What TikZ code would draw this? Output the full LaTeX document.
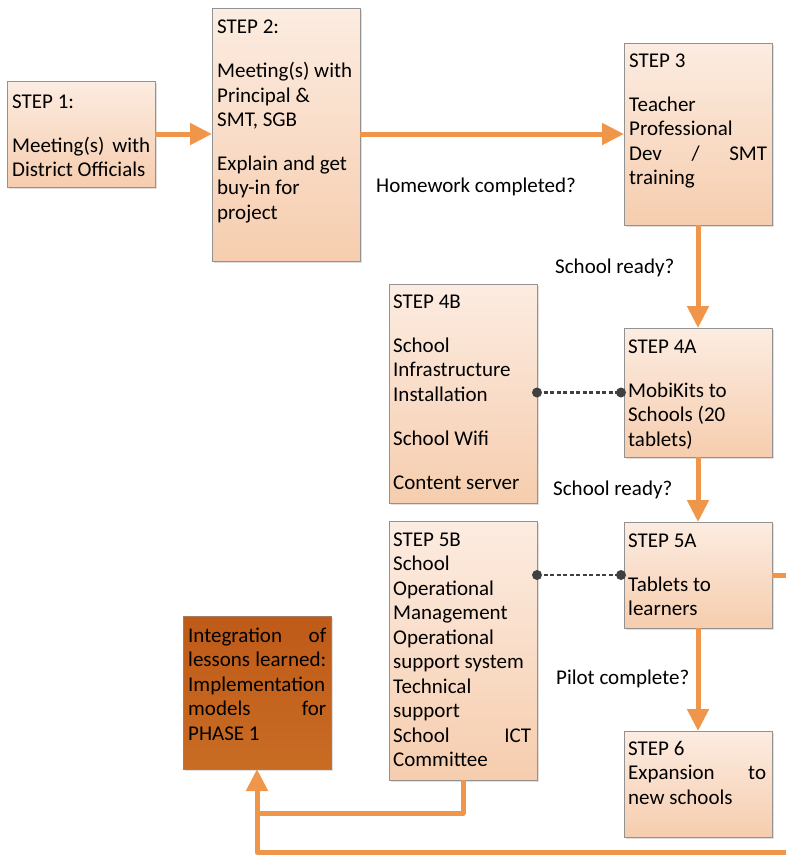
\documentclass[tikz,border=0pt]{standalone}
\usepackage{fontspec}
\setmainfont{Carlito}
\usetikzlibrary{arrows.meta,shadows}
\definecolor{peachTop}{HTML}{FCECE1}
\definecolor{peachBot}{HTML}{F6CDAE}
\definecolor{intTop}{HTML}{BF5A18}
\definecolor{intBot}{HTML}{C86C24}
\definecolor{arrowOr}{HTML}{F0964A}
\definecolor{boxLine}{HTML}{929292}
\definecolor{dotLine}{HTML}{404040}
\tikzset{
  stepbox/.style={draw=boxLine, line width=0.8pt, top color=peachTop, bottom color=peachBot,
    minimum width=148pt, anchor=north west, inner sep=0pt, outer sep=0pt,
    drop shadow={shadow xshift=2pt, shadow yshift=-2pt, opacity=0.25}},
  intbox/.style={stepbox, draw=boxLine!60!intTop, top color=intTop, bottom color=intBot},
  txt/.style={inner sep=0pt, text width=138pt, align=flush left, anchor=base west,
    font=\fontsize{21}{24.5}\selectfont,
    execute at begin node={\spaceskip=0pt\xspaceskip=0pt}},
  lbl/.style={inner sep=0pt, anchor=base west, font=\fontsize{21}{24.5}\selectfont},
  conn/.style={draw=arrowOr, line width=5pt, -{Triangle[length=22pt,width=21pt]}},
  loopline/.style={draw=arrowOr, line width=5pt, line join=round},
  dotconn/.style={draw=dotLine, line width=2.2pt, dash pattern=on 4pt off 2.5pt},
  dotend/.style={fill=dotLine}
}
\begin{document}
\begin{tikzpicture}[x=1pt,y=-1pt]
\useasboundingbox (0,0) rectangle (786,855);
% boxes
\node[stepbox, minimum height=106pt] (s1) at (7,81) {};
\node[stepbox, minimum height=253pt] (s2) at (212,8) {};
\node[stepbox, minimum height=182pt] (s3) at (624,43) {};
\node[stepbox, minimum height=219pt] (s4b) at (389,284) {};
\node[stepbox, minimum height=129pt] (s4a) at (624,328) {};
\node[stepbox, minimum height=259pt] (s5b) at (389,521) {};
\node[stepbox, minimum height=106pt] (s5a) at (624,522) {};
\node[stepbox, minimum height=106pt] (s6) at (624,731) {};
\node[intbox, minimum height=153pt] (int) at (183,616) {};
% texts
\node[txt] (t1) at ([xshift=5pt,yshift=-27pt]s1.north west)
  {STEP 1:\\[19.5pt]Meeting(s)\hfill with\\District Officials};
\node[txt] (t2) at ([xshift=5pt,yshift=-25pt]s2.north west)
  {STEP 2:\\[20pt]Meeting(s) with\\Principal \&\\SMT, SGB\\[19pt]Explain and get\\buy-in for\\project};
\node[txt] (t3) at ([xshift=5pt,yshift=-24pt]s3.north west)
  {STEP 3\\[19.5pt]Teacher\\Professional\\Dev\hfill /\hfill SMT\\training};
\node[txt] (t4b) at ([xshift=4pt,yshift=-24pt]s4b.north west)
  {STEP 4B\\[19.5pt]School\\Infrastructure\\Installation\\[19.5pt]School Wifi\\[19.5pt]Content server};
\node[txt] (t4a) at ([xshift=4pt,yshift=-25pt]s4a.north west)
  {STEP 4A\\[19.5pt]MobiKits to\\Schools (20\\tablets)};
\node[txt] (t5b) at ([xshift=4pt,yshift=-25pt]s5b.north west)
  {STEP 5B\\School\\Operational\\Management\\Operational\\support system\\Technical\\support\\School\hfill ICT\\Committee};
\node[txt] (t5a) at ([xshift=4pt,yshift=-25pt]s5a.north west)
  {STEP 5A\\[19.5pt]Tablets to\\learners};
\node[txt] (t6) at ([xshift=4pt,yshift=-24pt]s6.north west)
  {STEP 6\\Expansion\hfill to\\new schools};
\node[txt] (tint) at ([xshift=5pt,yshift=-26pt]int.north west)
  {Integration\hfill of\\lessons\hfill learned:\\Implementation\\models\hfill for\\PHASE 1};
% labels
\node[lbl] (l1) at (376,192) {Homework completed?};
\node[lbl] (l2) at (555,273) {School ready?};
\node[lbl] (l3) at (553,495) {School ready?};
\node[lbl] (l4) at (556,684) {Pilot complete?};
% arrows
\draw[conn] (s1.east) -- (s1.east -| s2.west);
\draw[conn] (s2.east |- s3.west) -- (s3.west);
\draw[conn] (s3.south) -- (s4a.north);
\draw[conn] (s4a.south) -- (s5a.north);
\draw[conn] (s5a.south) -- (s6.north);
% dotted links
\draw[dotconn] (s4b.east |- s4a.west) -- (s4a.west);
\fill[dotend] (s4b.east |- s4a.west) circle (5pt);
\fill[dotend] ([xshift=-3pt]s4a.west) circle (5pt);
\draw[dotconn] (s5b.east |- s5a.west) -- (s5a.west);
\fill[dotend] (s5b.east |- s5a.west) circle (5pt);
\fill[dotend] ([xshift=-3pt]s5a.west) circle (5pt);
% feedback loops
\coordinate (rt) at (800,575);
\coordinate (rb) at (800,852);
\coordinate (jn) at (258,813);
\draw[loopline] (s5b.south) |- (jn -| int.south);
\draw[conn, line join=round] (s5a.east) -- (rt) -- (rb) -| (int.south);
\end{tikzpicture}
\end{document}
